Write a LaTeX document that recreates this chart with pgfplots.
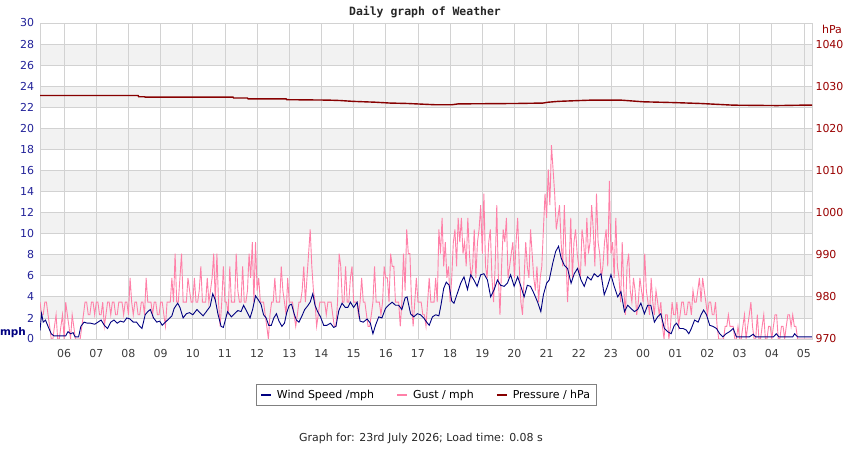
\documentclass[border=0pt]{standalone}
\usepackage{fontspec}
\setmainfont{DejaVu Sans}
\newfontfamily\monofont{DejaVu Sans Mono}
\usepackage{pgfplots}
\pgfplotsset{compat=1.18}
\definecolor{windc}{RGB}{0,0,128}
\definecolor{gustc}{RGB}{255,128,168}
\definecolor{presc}{RGB}{135,0,0}
\definecolor{gridc}{RGB}{210,210,210}
\definecolor{bandc}{RGB}{242,242,242}
\definecolor{leftlab}{RGB}{34,34,153}
\definecolor{rightlab}{RGB}{153,0,0}
\definecolor{xlab}{RGB}{60,60,60}
\definecolor{legc}{RGB}{128,128,128}
\begin{document}
\begin{tikzpicture}
\path[use as bounding box] (0,0) rectangle (850bp,450bp);
% background bands
\begin{axis}[
  scale only axis, width=772bp, height=316bp,
  at={(40bp,111bp)}, anchor=south west,
  xmin=5.25, xmax=29.25, ymin=0, ymax=30, hide axis]
\fill[bandc] (axis cs:5.25,2) rectangle (axis cs:29.25,4);
\fill[bandc] (axis cs:5.25,6) rectangle (axis cs:29.25,8);
\fill[bandc] (axis cs:5.25,10) rectangle (axis cs:29.25,12);
\fill[bandc] (axis cs:5.25,14) rectangle (axis cs:29.25,16);
\fill[bandc] (axis cs:5.25,18) rectangle (axis cs:29.25,20);
\fill[bandc] (axis cs:5.25,22) rectangle (axis cs:29.25,24);
\fill[bandc] (axis cs:5.25,26) rectangle (axis cs:29.25,28);
\end{axis}
% main axis (wind)
\begin{axis}[
  scale only axis, width=772bp, height=316bp,
  at={(40bp,111bp)}, anchor=south west,
  xmin=5.25, xmax=29.25, ymin=0, ymax=30,
  xtick={6,7,8,9,10,11,12,13,14,15,16,17,18,19,20,21,22,23,24,25,26,27,28,29},
  xticklabels={06,07,08,09,10,11,12,13,14,15,16,17,18,19,20,21,22,23,00,01,02,03,04,05},
  ytick={0,2,...,30},
  grid=major, major grid style={gridc, line width=0.8bp},
  axis line style={gridc, line width=0.8bp},
  major tick length=0pt,
  tick label style={font=\fontsize{11}{13}\selectfont},
  /pgf/number format/assume math mode=true,
  yticklabel style={text=leftlab, xshift=-2.5bp},
  xticklabel style={text=xlab, yshift=-6.5bp},
  legend columns=3,
  legend cell align=left,
  legend image code/.code={\draw[#1, line width=2bp] (0bp,0bp) -- (10bp,0bp);},
  legend style={at={(0.5,-0.177)}, anchor=center, draw=legc, line width=0.8bp,
    font=\fontsize{11}{13}\selectfont, inner xsep=4bp, inner ysep=3.5bp,
    /tikz/every odd column/.append style={column sep=3bp},
    /tikz/every even column/.append style={column sep=20bp}},
]
\addplot[gustc, line width=0.9bp, forget plot] coordinates {
(5.25,3.5)(5.30,2.3)(5.35,2.3)(5.40,3.5)(5.45,3.5)(5.50,2.3)(5.55,1.2)(5.60,0)(5.65,0)(5.70,1.2)(5.75,2.3)(5.80,0)(5.85,0)(5.90,1.2)(5.95,2.3)
(6.00,0)(6.05,3.5)(6.10,2.3)(6.15,1.2)(6.20,0)(6.25,2.3)(6.30,1.2)(6.35,0)(6.40,0)(6.45,0)(6.50,0)(6.55,1.2)(6.60,2.3)(6.65,3.5)(6.70,3.5)(6.75,2.3)(6.80,2.3)(6.85,3.5)(6.90,3.5)(6.95,2.3)
(7.00,3.5)(7.05,3.5)(7.10,2.3)(7.15,2.3)(7.20,3.5)(7.25,1.2)(7.30,2.3)(7.35,3.5)(7.40,3.5)(7.45,2.3)(7.50,3.5)(7.55,3.5)(7.60,2.3)(7.65,2.3)(7.70,3.5)(7.75,3.5)(7.80,3.5)(7.85,2.3)(7.90,3.5)(7.95,3.5)
(8.00,2.3)(8.05,5.8)(8.10,3.5)(8.15,2.3)(8.20,3.5)(8.25,3.5)(8.30,2.3)(8.35,2.3)(8.40,3.5)(8.45,3.5)(8.50,2.3)(8.55,5.8)(8.60,3.5)(8.65,3.5)(8.70,3.5)(8.75,2.3)(8.80,3.5)(8.85,3.5)(8.90,2.3)(8.95,2.3)
(9.00,3.5)(9.05,3.5)(9.10,2.3)(9.15,1.2)(9.20,3.5)(9.25,3.5)(9.30,3.5)(9.35,5.8)(9.40,3.5)(9.45,8.1)(9.50,3.5)(9.55,3.5)(9.60,5.8)(9.65,8.1)(9.70,3.5)(9.75,3.5)(9.80,3.5)(9.85,5.8)(9.90,4.6)(9.95,3.5)
(10.00,3.5)(10.05,5.8)(10.10,3.5)(10.15,3.5)(10.20,4.6)(10.25,6.9)(10.30,3.5)(10.35,3.5)(10.40,3.5)(10.45,5.8)(10.50,3.5)(10.55,4.6)(10.60,5.8)(10.65,8.1)(10.70,3.5)(10.75,8.1)(10.80,3.5)(10.85,1.2)(10.90,3.5)(10.95,6.9)
(11.00,3.5)(11.05,3.5)(11.10,2.3)(11.15,6.9)(11.20,3.5)(11.25,3.5)(11.30,3.5)(11.35,8.1)(11.40,4.6)(11.45,3.5)(11.50,3.5)(11.55,6.9)(11.60,3.5)(11.65,3.5)(11.70,4.6)(11.75,8.1)(11.80,5.8)(11.85,9.2)(11.90,3.5)(11.95,9.2)
(12.00,4.6)(12.05,5.8)(12.10,3.5)(12.15,3.5)(12.20,3.5)(12.25,2.3)(12.30,1.2)(12.35,0)(12.40,2.3)(12.45,3.5)(12.50,3.5)(12.55,5.8)(12.60,3.5)(12.65,3.5)(12.70,3.5)(12.75,6.9)(12.80,4.6)(12.85,3.5)(12.90,2.3)(12.95,5.8)
(13.00,3.5)(13.05,3.5)(13.10,3.5)(13.15,2.3)(13.20,1.2)(13.25,2.3)(13.30,3.5)(13.35,3.5)(13.40,4.6)(13.45,6.9)(13.50,3.5)(13.55,5.8)(13.60,8.1)(13.65,10.4)(13.70,6.9)(13.75,4.6)(13.80,3.5)(13.85,1.2)(13.90,2.3)(13.95,3.5)
(14.00,3.5)(14.05,3.5)(14.10,3.5)(14.15,2.3)(14.20,3.5)(14.25,3.5)(14.30,3.5)(14.35,2.3)(14.40,1.2)(14.45,1.2)(14.50,3.5)(14.55,8.1)(14.60,6.9)(14.65,3.5)(14.70,3.5)(14.75,6.9)(14.80,3.5)(14.85,3.5)(14.90,5.8)(14.95,6.9)
(15.00,3.5)(15.05,3.5)(15.10,3.5)(15.15,2.3)(15.20,3.5)(15.25,5.8)(15.30,3.5)(15.35,3.5)(15.40,2.3)(15.45,1.2)(15.50,1.2)(15.55,2.3)(15.60,3.5)(15.65,6.9)(15.70,3.5)(15.75,3.5)(15.80,3.5)(15.85,2.3)(15.90,3.5)(15.95,6.9)
(16.00,5.8)(16.05,5.8)(16.10,3.5)(16.15,8.1)(16.20,6.9)(16.25,6.9)(16.30,3.5)(16.35,3.5)(16.40,3.5)(16.45,1.2)(16.50,3.5)(16.55,8.1)(16.60,4.6)(16.65,10.4)(16.70,8.1)(16.75,8.1)(16.80,3.5)(16.85,1.2)(16.90,3.5)(16.95,5.8)
(17.00,3.5)(17.05,3.5)(17.10,3.5)(17.15,2.3)(17.20,2.3)(17.25,1.2)(17.30,3.5)(17.35,5.8)(17.40,3.5)(17.45,3.5)(17.50,3.5)(17.55,5.8)(17.60,3.5)(17.65,10.4)(17.70,8.1)(17.75,11.5)(17.80,6.9)(17.85,9.2)(17.90,5.8)(17.95,6.9)
(18.00,3.5)(18.05,5.8)(18.10,9.2)(18.15,10.4)(18.20,6.9)(18.25,11.5)(18.30,9.2)(18.35,11.5)(18.40,8.1)(18.45,9.2)(18.50,6.9)(18.55,11.5)(18.60,8.1)(18.65,5.8)(18.70,6.9)(18.75,10.4)(18.80,5.8)(18.85,9.2)(18.90,10.4)(18.95,12.7)
(19.00,8.1)(19.05,13.8)(19.10,6.9)(19.15,5.8)(19.20,9.2)(19.25,10.4)(19.30,5.8)(19.35,3.5)(19.40,6.9)(19.45,12.7)(19.50,5.8)(19.55,2.3)(19.60,6.9)(19.65,10.4)(19.70,9.2)(19.75,11.5)(19.80,5.8)(19.85,6.9)(19.90,8.1)(19.95,9.2)
(20.00,5.8)(20.05,9.2)(20.10,11.5)(20.15,6.9)(20.20,3.5)(20.25,2.3)(20.30,5.8)(20.35,9.2)(20.40,6.9)(20.45,5.8)(20.50,10.4)(20.55,8.1)(20.60,5.8)(20.65,4.6)(20.70,6.9)(20.75,3.5)(20.80,5.8)(20.85,6.9)(20.90,10.4)(20.95,13.8)
(21.00,11.5)(21.05,16.1)(21.10,12.7)(21.15,18.4)(21.20,16.1)(21.25,13.8)(21.30,10.4)(21.35,11.5)(21.40,12.7)(21.45,9.2)(21.50,6.9)(21.55,12.7)(21.60,8.1)(21.65,3.5)(21.70,6.9)(21.75,11.5)(21.80,5.8)(21.85,9.2)(21.90,10.4)(21.95,8.1)
(22.00,6.9)(22.05,5.8)(22.10,10.4)(22.15,9.2)(22.20,6.9)(22.25,11.5)(22.30,8.1)(22.35,9.2)(22.40,12.7)(22.45,10.4)(22.50,6.9)(22.55,13.8)(22.60,9.2)(22.65,8.1)(22.70,5.8)(22.75,6.9)(22.80,9.2)(22.85,10.4)(22.90,6.9)(22.95,15.0)
(23.00,8.1)(23.05,9.2)(23.10,5.8)(23.15,11.5)(23.20,6.9)(23.25,5.8)(23.30,3.5)(23.35,9.2)(23.40,4.6)(23.45,2.3)(23.50,6.9)(23.55,8.1)(23.60,4.6)(23.65,3.5)(23.70,5.8)(23.75,4.6)(23.80,2.3)(23.85,3.5)(23.90,5.8)(23.95,4.6)
(24.00,3.5)(24.05,8.1)(24.10,4.6)(24.15,3.5)(24.20,2.3)(24.25,5.8)(24.30,3.5)(24.35,2.3)(24.40,4.6)(24.45,3.5)(24.50,2.3)(24.55,3.5)(24.60,1.2)(24.65,0)(24.70,2.3)(24.75,2.3)(24.80,0)(24.85,1.2)(24.90,3.5)(24.95,2.3)
(25.00,2.3)(25.05,3.5)(25.10,1.2)(25.15,2.3)(25.20,3.5)(25.25,3.5)(25.30,2.3)(25.35,2.3)(25.40,3.5)(25.45,3.5)(25.50,2.3)(25.55,4.6)(25.60,3.5)(25.65,3.5)(25.70,4.6)(25.75,5.8)(25.80,3.5)(25.85,5.8)(25.90,4.6)(25.95,3.5)
(26.00,2.3)(26.05,3.5)(26.10,3.5)(26.15,2.3)(26.20,2.3)(26.25,3.5)(26.30,1.2)(26.35,0)(26.40,0)(26.45,0)(26.50,0)(26.55,1.2)(26.60,1.2)(26.65,2.3)(26.70,1.2)(26.75,1.2)(26.80,1.2)(26.85,0)(26.90,0)(26.95,1.2)
(27.00,0)(27.05,0)(27.10,1.2)(27.15,2.3)(27.20,0)(27.25,1.2)(27.30,2.3)(27.35,3.5)(27.40,1.2)(27.45,0)(27.50,0)(27.55,2.3)(27.60,0)(27.65,0)(27.70,1.2)(27.75,2.3)(27.80,0)(27.85,0)(27.90,1.2)(27.95,1.2)
(28.00,0)(28.05,1.2)(28.10,2.3)(28.15,2.3)(28.20,0)(28.25,0)(28.30,1.2)(28.35,1.2)(28.40,0)(28.45,1.2)(28.50,2.3)(28.55,2.3)(28.60,1.2)(28.65,2.3)(28.70,1.2)(28.75,1.2)(28.80,0)(28.85,0)(28.90,0)(28.95,0)
(29.00,0)(29.05,0)(29.10,0)(29.15,0)(29.20,0)(29.25,0)
};
\addplot[windc, line width=0.9bp, forget plot] coordinates {
(5.25,0.8)(5.30,2.4)(5.35,1.6)(5.42,1.8)(5.5,1.2)(5.6,0.5)(5.68,0.3)(5.8,0.3)(5.95,0.3)
(6.05,0.3)(6.12,0.7)(6.2,0.5)(6.28,0.6)(6.34,0.2)(6.45,0.2)(6.52,1.2)(6.62,1.6)(6.72,1.5)(6.82,1.5)(6.95,1.4)
(7.05,1.6)(7.15,1.8)(7.25,1.3)(7.35,1.0)(7.45,1.6)(7.55,1.8)(7.65,1.5)(7.75,1.7)(7.85,1.6)(7.95,2.0)
(8.05,1.9)(8.15,1.6)(8.25,1.6)(8.35,1.2)(8.42,1.0)(8.52,2.3)(8.6,2.6)(8.68,2.8)(8.78,2.0)(8.88,1.6)(8.97,1.7)
(9.05,1.3)(9.15,1.6)(9.25,1.9)(9.35,2.2)(9.42,2.9)(9.53,3.4)(9.6,3.0)(9.7,2.0)(9.8,2.4)(9.9,2.5)
(10.0,2.3)(10.13,2.8)(10.22,2.5)(10.32,2.2)(10.42,2.6)(10.54,3.1)(10.62,4.3)(10.7,3.7)(10.78,2.4)(10.88,1.2)(10.95,1.1)
(11.02,1.9)(11.08,2.6)(11.2,2.1)(11.3,2.4)(11.4,2.7)(11.5,2.6)(11.58,3.2)(11.68,2.6)(11.78,2.0)(11.86,2.8)(11.95,4.1)
(12.04,3.7)(12.12,3.3)(12.2,2.3)(12.28,2.0)(12.36,1.3)(12.44,1.3)(12.52,2.0)(12.6,2.4)(12.68,1.7)(12.77,1.2)(12.85,1.5)(12.92,2.5)
(13.0,3.2)(13.07,3.3)(13.15,2.4)(13.22,1.8)(13.3,1.6)(13.38,2.1)(13.48,2.8)(13.56,3.1)(13.65,3.5)(13.73,4.3)(13.8,3.2)(13.88,2.6)(13.97,2.1)
(14.07,1.3)(14.17,1.3)(14.28,1.5)(14.38,1.1)(14.45,1.2)(14.54,2.7)(14.64,3.4)(14.74,3.0)(14.82,3.0)(14.9,3.5)
(15.0,3.0)(15.11,3.5)(15.2,1.7)(15.3,1.6)(15.42,1.9)(15.52,1.5)(15.6,0.5)(15.68,1.3)(15.78,2.1)(15.88,2.0)(15.99,2.9)
(16.08,3.2)(16.2,3.5)(16.3,3.2)(16.4,3.2)(16.5,2.8)(16.6,3.9)(16.66,4.0)(16.77,2.4)(16.87,2.1)(16.98,2.4)
(17.08,2.3)(17.18,2.0)(17.27,1.6)(17.35,1.3)(17.45,2.1)(17.55,2.3)(17.65,2.2)(17.72,3.3)(17.8,4.8)(17.88,5.4)(17.97,5.1)
(18.05,3.6)(18.12,3.4)(18.22,4.3)(18.33,5.3)(18.43,5.9)(18.54,4.7)(18.64,6.1)(18.74,5.6)(18.84,5.0)(18.95,6.1)
(19.05,6.2)(19.16,5.6)(19.26,4.0)(19.37,4.7)(19.47,5.6)(19.57,5.1)(19.68,5.0)(19.78,5.3)(19.88,6.1)(19.99,5.0)
(20.1,5.9)(20.2,5.0)(20.3,4.0)(20.4,5.1)(20.5,5.0)(20.61,4.3)(20.72,3.5)(20.82,2.6)(20.9,4.2)
(21.0,5.3)(21.08,5.6)(21.19,7.2)(21.28,8.3)(21.37,8.8)(21.45,7.7)(21.55,7.0)(21.65,6.7)(21.76,5.3)(21.86,6.2)(21.96,6.7)
(22.07,5.6)(22.17,5.0)(22.27,5.9)(22.38,5.6)(22.48,6.2)(22.59,5.9)(22.69,6.2)(22.79,4.2)(22.89,5.0)
(23.0,6.1)(23.1,5.0)(23.21,4.0)(23.31,4.5)(23.42,2.6)(23.52,3.2)(23.62,2.9)(23.73,2.6)(23.83,2.8)(23.93,3.4)
(24.04,2.4)(24.14,3.2)(24.24,3.2)(24.35,1.6)(24.45,2.1)(24.55,2.4)(24.66,1.0)(24.76,0.7)(24.87,0.5)(24.97,1.3)
(25.04,1.5)(25.14,1.0)(25.24,1.0)(25.34,0.85)(25.42,0.5)(25.5,1.0)(25.6,1.8)(25.71,1.6)(25.8,2.3)(25.88,2.75)(25.97,2.3)
(26.07,1.3)(26.17,1.2)(26.28,1.0)(26.38,0.5)(26.48,0.2)(26.58,0.5)(26.69,0.7)(26.8,1.0)(26.9,0.2)
(27.0,0.2)(27.3,0.2)(27.42,0.45)(27.5,0.2)(28.05,0.2)(28.14,0.5)(28.22,0.2)(28.65,0.2)(28.71,0.5)(28.8,0.2)(29.25,0.2)
};
\addlegendimage{windc}
\addlegendimage{gustc}
\addlegendimage{presc}
\legend{Wind Speed /mph, Gust / mph, Pressure / hPa}
\end{axis}
% right axis (pressure)
\begin{axis}[
  scale only axis, width=772bp, height=316bp,
  at={(40bp,111bp)}, anchor=south west,
  xmin=5.25, xmax=29.25, ymin=970, ymax=1045,
  axis x line=none, axis y line*=right,
  ytick={970,980,...,1040},
  axis line style={gridc, line width=0.8bp},
  major tick length=0pt,
  tick label style={font=\fontsize{11}{13}\selectfont},
  /pgf/number format/assume math mode=true,
  /pgf/number format/set thousands separator={},
  yticklabel style={text=rightlab},
]
\addplot[presc, line width=1.4bp] coordinates {
(5.25,1027.8)(8.3,1027.8)(8.32,1027.5)(8.5,1027.5)(8.52,1027.4)(11.25,1027.4)(11.27,1027.2)(11.7,1027.2)(11.72,1027.0)
(12.9,1027.0)(12.92,1026.8)(14.2,1026.7)(14.58,1026.6)(14.98,1026.4)(15.67,1026.2)(16.13,1026.0)(16.66,1025.9)
(17.53,1025.6)(18.06,1025.6)(18.25,1025.8)(20.08,1025.9)(20.89,1026.0)(21.05,1026.2)(21.36,1026.4)(22.04,1026.6)
(22.41,1026.7)(23.3,1026.7)(24.0,1026.3)(25.0,1026.1)(25.77,1025.9)(26.8,1025.5)(28.16,1025.4)(28.94,1025.5)(29.25,1025.5)
};
\end{axis}
\node[font=\monofont\bfseries\fontsize{11.5}{13}\selectfont, text=black!85] at (425bp,438bp) {Daily graph of Weather};
\node[font=\bfseries\fontsize{10.5}{12}\selectfont, text=windc] at (13bp,117bp) {mph};
\node[font=\fontsize{11}{13}\selectfont, text=rightlab] at (832bp,421bp) {hPa};
\node[font=\fontsize{11}{13}\selectfont, text=black!85] at (421bp,12bp) {Graph for: 23rd July 2026; Load time: 0.08 s};
\end{tikzpicture}
\end{document}
